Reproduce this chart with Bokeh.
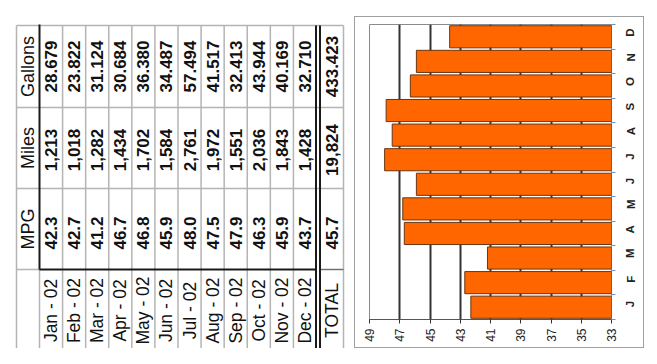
import math
from bokeh.plotting import figure
from bokeh.layouts import row
from bokeh.models import Range1d, FixedTicker, LinearAxis, ColumnDataSource
from bokeh.core.properties import value
from bokeh.embed import file_html
from bokeh.resources import INLINE

# ---------------- data ----------------
months = ["Jan - 02", "Feb - 02", "Mar - 02", "Apr - 02", "May - 02", "Jun - 02",
          "Jul - 02", "Aug - 02", "Sep - 02", "Oct - 02", "Nov - 02", "Dec - 02"]
month_letters = ["J", "F", "M", "A", "M", "J", "J", "A", "S", "O", "N", "D"]
mpg = [42.3, 42.7, 41.2, 46.7, 46.8, 45.9, 48.0, 47.5, 47.9, 46.3, 45.9, 43.7]
miles = [1213, 1018, 1282, 1434, 1702, 1584, 2761, 1972, 1551, 2036, 1843, 1428]
gallons = [28.679, 23.822, 31.124, 30.684, 36.380, 34.487, 57.494, 41.517,
           32.413, 43.944, 40.169, 32.710]
row_headers = ["Gallons", "Miles", "MPG", ""]
total_label = "TOTAL"
total_gallons = 433.423
total_miles = 19824
total_mpg = 45.7
value_ticks = [49, 47, 45, 43, 41, 39, 37, 35, 33]

FONT = "Liberation Sans"
TOP, H = 16, 332

# ---------------- table (rotated 90 deg) ----------------
T = figure(frame_width=354, frame_height=H, x_range=Range1d(0, 354),
           y_range=Range1d(TOP + H, TOP),
           output_backend="svg", toolbar_location=None, min_border=0,
           x_axis_location=None, y_axis_location=None, title=None,
           margin=(TOP, 0, 0, 0))
T.grid.visible = False
T.outline_line_color = None
T.background_fill_color = "white"
T.border_fill_color = "white"

left, hdr_r, data_r, tot_l, right = 16, 39, 316, 319, 343
row_edges = [18, 100, 181, 262, 344]
ncol = len(months)
cw = (data_r - hdr_r) / ncol
col_edges = [hdr_r + cw * i for i in range(ncol + 1)]
col_centers = [hdr_r + cw * (i + 0.5) for i in range(ncol)]
row_centers = [(row_edges[i] + row_edges[i + 1]) / 2 for i in range(4)]
hdr_c = (left + hdr_r) / 2
tot_c = (tot_l + right) / 2

lg = "#b4b4b4"
xs0, ys0, xs1, ys1 = [], [], [], []
for x in col_edges[1:-1]:
    xs0.append(x); ys0.append(row_edges[0]); xs1.append(x); ys1.append(row_edges[-1])
for y in row_edges[1:3]:
    xs0.append(left); ys0.append(y); xs1.append(right); ys1.append(y)
xs0 += [left, left, right, left, hdr_r]
ys0 += [row_edges[0], row_edges[-1], row_edges[0], row_edges[0], row_edges[3]]
xs1 += [right, right, right, left, hdr_r]
ys1 += [row_edges[0], row_edges[-1], row_edges[-1], row_edges[-1], row_edges[-1]]
xs0.append(left); ys0.append(row_edges[3]); xs1.append(hdr_r); ys1.append(row_edges[3])
T.segment(xs0, ys0, xs1, ys1, line_color=lg, line_width=1.5)
T.segment([tot_l], [row_edges[3]], [right], [row_edges[3]], line_color="#707070", line_width=1.5)
T.segment([hdr_r, hdr_r, data_r - 0.5, tot_l + 0.5],
          [row_edges[0] - 1, row_edges[3], row_edges[0], row_edges[0]],
          [hdr_r, data_r, data_r - 0.5, tot_l + 0.5],
          [row_edges[3], row_edges[3], row_edges[-1], row_edges[-1]],
          line_color="#1a1a1a", line_width=2)

ang = math.pi / 2
T.text(x=[hdr_c] * 3, y=row_centers[:3], text=row_headers[:3], angle=ang,
       text_align="center", text_baseline="middle", text_font=value(FONT),
       text_font_size="18px", text_color="#111111")
g_txt = ["%.3f" % v for v in gallons] + ["%.3f" % total_gallons]
m_txt = ["{:,}".format(v) for v in miles] + ["{:,}".format(total_miles)]
p_txt = ["%.1f" % v for v in mpg] + ["%.1f" % total_mpg]
xs_all = col_centers + [tot_c]
for txt, yc in [(g_txt, row_centers[0]), (m_txt, row_centers[1] + 2), (p_txt, row_centers[2] + 4)]:
    T.text(x=xs_all, y=[yc] * len(xs_all), text=txt, angle=ang,
           text_align="center", text_baseline="middle", text_font=value(FONT),
           text_font_size="17px", text_font_style="bold", text_color="#111111")
T.text(x=xs_all, y=[row_centers[3]] * len(xs_all), text=months + [total_label], angle=ang,
       text_align="center", text_baseline="middle", text_font=value(FONT),
       text_font_size="17.5px", text_color="#111111")

# ---------------- bar chart ----------------
idx = list(range(1, len(mpg) + 1))
src = ColumnDataSource(dict(y=idx, right=mpg, left=[value_ticks[-1]] * len(mpg)))

C = figure(width=290, height=H, x_range=Range1d(49, 33), y_range=Range1d(0.5, 12.5),
           output_backend="svg", toolbar_location=None, x_axis_location=None,
           y_axis_location=None, title=None,
           min_border_left=14, min_border_right=29, min_border_top=7, min_border_bottom=30,
           styles={"border": "1px solid #a0a0a0"}, margin=(TOP, 0, 0, 0))
C.background_fill_color = "white"
C.border_fill_color = "white"
C.outline_line_color = "#8a8a8a"
C.outline_line_width = 1
C.ygrid.visible = False
C.xgrid.ticker = FixedTicker(ticks=value_ticks)
C.xgrid.grid_line_color = "#333333"
C.xgrid.grid_line_width = 2

C.hbar(y="y", left="left", right="right", height=0.9, source=src,
       fill_color="#FF6600", line_color="#6b3510", line_width=1)

xa = LinearAxis(ticker=FixedTicker(ticks=value_ticks, minor_ticks=[]))
xa.major_label_orientation = math.pi / 2
xa.major_label_text_font = FONT
xa.major_label_text_font_size = "12px"
xa.major_label_text_color = "#222222"
xa.major_tick_in = 0
xa.major_tick_out = 4
xa.major_tick_line_color = "#333333"
xa.axis_line_color = "#555555"
xa.major_label_standoff = 5
C.add_layout(xa, "below")

ya = LinearAxis(ticker=FixedTicker(ticks=idx, minor_ticks=[i - 0.5 for i in idx] + [idx[-1] + 0.5]))
ya.major_label_overrides = {i: lab for i, lab in zip(idx, month_letters)}
ya.major_label_orientation = math.pi / 2
ya.major_label_text_font = FONT
ya.major_label_text_font_size = "11.5px"
ya.major_label_text_font_style = "bold"
ya.major_label_text_color = "#222222"
ya.major_tick_in = 0
ya.major_tick_out = 0
ya.minor_tick_in = 0
ya.minor_tick_out = 4
ya.minor_tick_line_color = "#7090c8"
ya.axis_line_color = None
ya.major_label_standoff = 15
C.add_layout(ya, "right")

layout = row(T, C)
open("out.html", "w").write(file_html(layout, INLINE))
